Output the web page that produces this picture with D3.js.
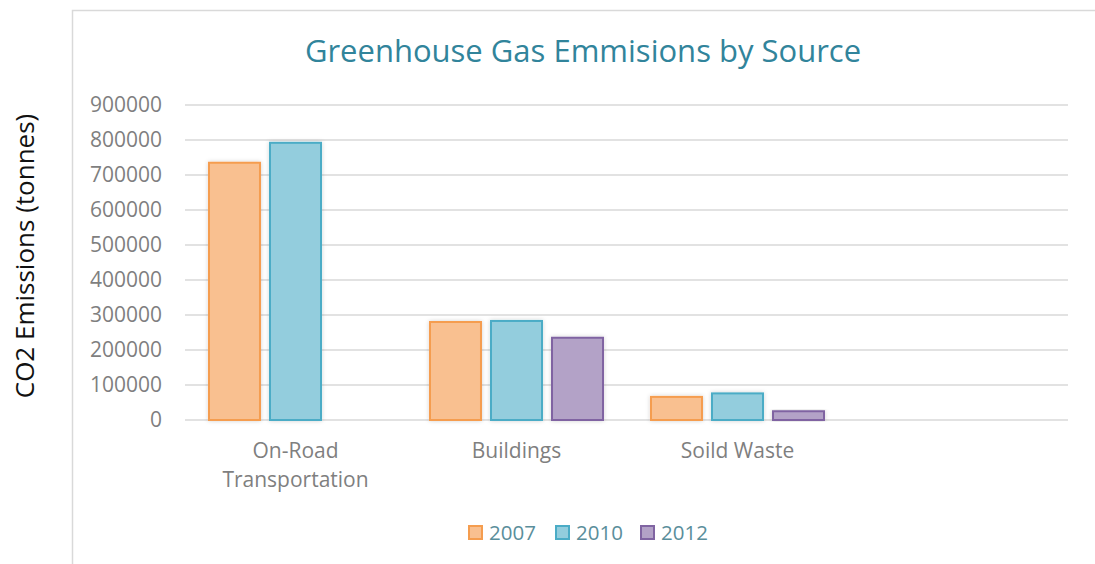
<!DOCTYPE html>
<html>
<head>
<meta charset="utf-8">
<script src="https://cdn.jsdelivr.net/npm/d3@7"></script>
<style>
  body { margin: 0; background: #fff; }
  svg { display: block; }
</style>
</head>
<body>
<svg id="chart" width="1095" height="564"></svg>
<script>
// données
const categories = ['On-Road\nTransportation', 'Buildings', 'Soild Waste', ''];
const series = ['2007', '2010', '2012'];
const values2007 = [735000, 280000, 66000, null];
const values2010 = [792000, 283000, 76000, null];
const values2012 = [null, 235000, 25000, null];
const yTicks = [0, 100000, 200000, 300000, 400000, 500000, 600000, 700000, 800000, 900000];

const fills = ['#F9C090', '#93CDDD', '#B3A2C7'];
const strokes = ['#F59D4F', '#4BACC6', '#8064A2'];
const font = "'Open Sans', sans-serif";

const svg = d3.select('#chart');

// ombre légère des barres
svg.append('defs').append('filter')
  .attr('id', 'shadow')
  .attr('x', '-20%').attr('y', '-20%').attr('width', '140%').attr('height', '140%')
  .append('feDropShadow')
  .attr('dx', 0).attr('dy', 0).attr('stdDeviation', 2)
  .attr('flood-color', '#000').attr('flood-opacity', 0.18);

// cadre du graphique
svg.append('path')
  .attr('d', 'M72.5,564 V10.5 H1095')
  .attr('fill', 'none')
  .attr('stroke', '#d9d9d9')
  .attr('stroke-width', 1.5);

const y = d3.scaleLinear().domain([0, 900000]).range([420, 105]);
const x0 = d3.scaleBand().domain(categories).range([185, 1069]).paddingInner(0.217).paddingOuter(0.1085);
const x1 = d3.scaleBand().domain(series).range([0, x0.bandwidth()]).paddingInner(0.164);

// lignes de grille
svg.append('g')
  .selectAll('line')
  .data(yTicks)
  .enter()
  .append('line')
  .attr('x1', 185).attr('x2', 1068)
  .attr('y1', d => y(d)).attr('y2', d => y(d))
  .attr('stroke', '#d9d9d9')
  .attr('stroke-width', 1.5);

// axe Y
const yAxis = svg.append('g')
  .attr('transform', 'translate(162,0)')
  .call(d3.axisLeft(y).tickValues(yTicks).tickSize(0).tickPadding(0).tickFormat(d3.format('d')));
yAxis.select('.domain').remove();
yAxis.selectAll('text')
  .attr('fill', '#7f7f7f')
  .style('font-family', font)
  .style('font-size', '21px');

// axe X
const xAxis = svg.append('g')
  .attr('transform', 'translate(0,420)')
  .call(d3.axisBottom(x0).tickSize(0).tickFormat(''));
xAxis.select('.domain').remove();
xAxis.selectAll('.tick text').remove();
xAxis.selectAll('.tick').each(function (d) {
  const lines = d.split('\n');
  const t = d3.select(this).append('text')
    .attr('fill', '#7f7f7f')
    .attr('text-anchor', 'middle')
    .style('font-family', font)
    .style('font-size', '21px');
  lines.forEach((l, i) => {
    t.append('tspan').attr('x', 0).attr('y', 38 + i * 29).text(l);
  });
});

// barres
const allValues = [values2007, values2010, values2012];
series.forEach((s, si) => {
  svg.append('g')
    .selectAll('rect')
    .data(categories.map((c, i) => ({ cat: c, value: allValues[si][i] })).filter(d => d.value != null))
    .enter()
    .append('rect')
    .attr('x', d => x0(d.cat) + x1(s))
    .attr('y', d => y(d.value))
    .attr('width', x1.bandwidth())
    .attr('height', d => y(0) - y(d.value))
    .attr('fill', fills[si])
    .attr('stroke', strokes[si])
    .attr('stroke-width', 2)
    .attr('filter', 'url(#shadow)');
});

// titre
svg.append('text')
  .attr('x', 583).attr('y', 62)
  .attr('text-anchor', 'middle')
  .attr('fill', '#31849B')
  .style('font-family', font)
  .style('font-size', '31px')
  .text('Greenhouse Gas Emmisions by Source');

// titre de l'axe Y
svg.append('text')
  .attr('transform', 'translate(34,256) rotate(-90)')
  .attr('text-anchor', 'middle')
  .attr('fill', '#111')
  .style('font-family', font)
  .style('font-size', '26px')
  .text('CO2 Emissions (tonnes)');

// légende
const legendX = [469, 556, 641];
const legend = svg.append('g')
  .selectAll('g')
  .data(series)
  .enter()
  .append('g')
  .attr('transform', (d, i) => `translate(${legendX[i]},526)`);
legend.append('rect')
  .attr('width', 13).attr('height', 13)
  .attr('fill', (d, i) => fills[i])
  .attr('stroke', (d, i) => strokes[i])
  .attr('stroke-width', 2);
legend.append('text')
  .attr('x', 20).attr('y', 14)
  .attr('fill', '#5a8e9b')
  .style('font-family', font)
  .style('font-size', '20.5px')
  .text(d => d);
</script>
</body>
</html>
